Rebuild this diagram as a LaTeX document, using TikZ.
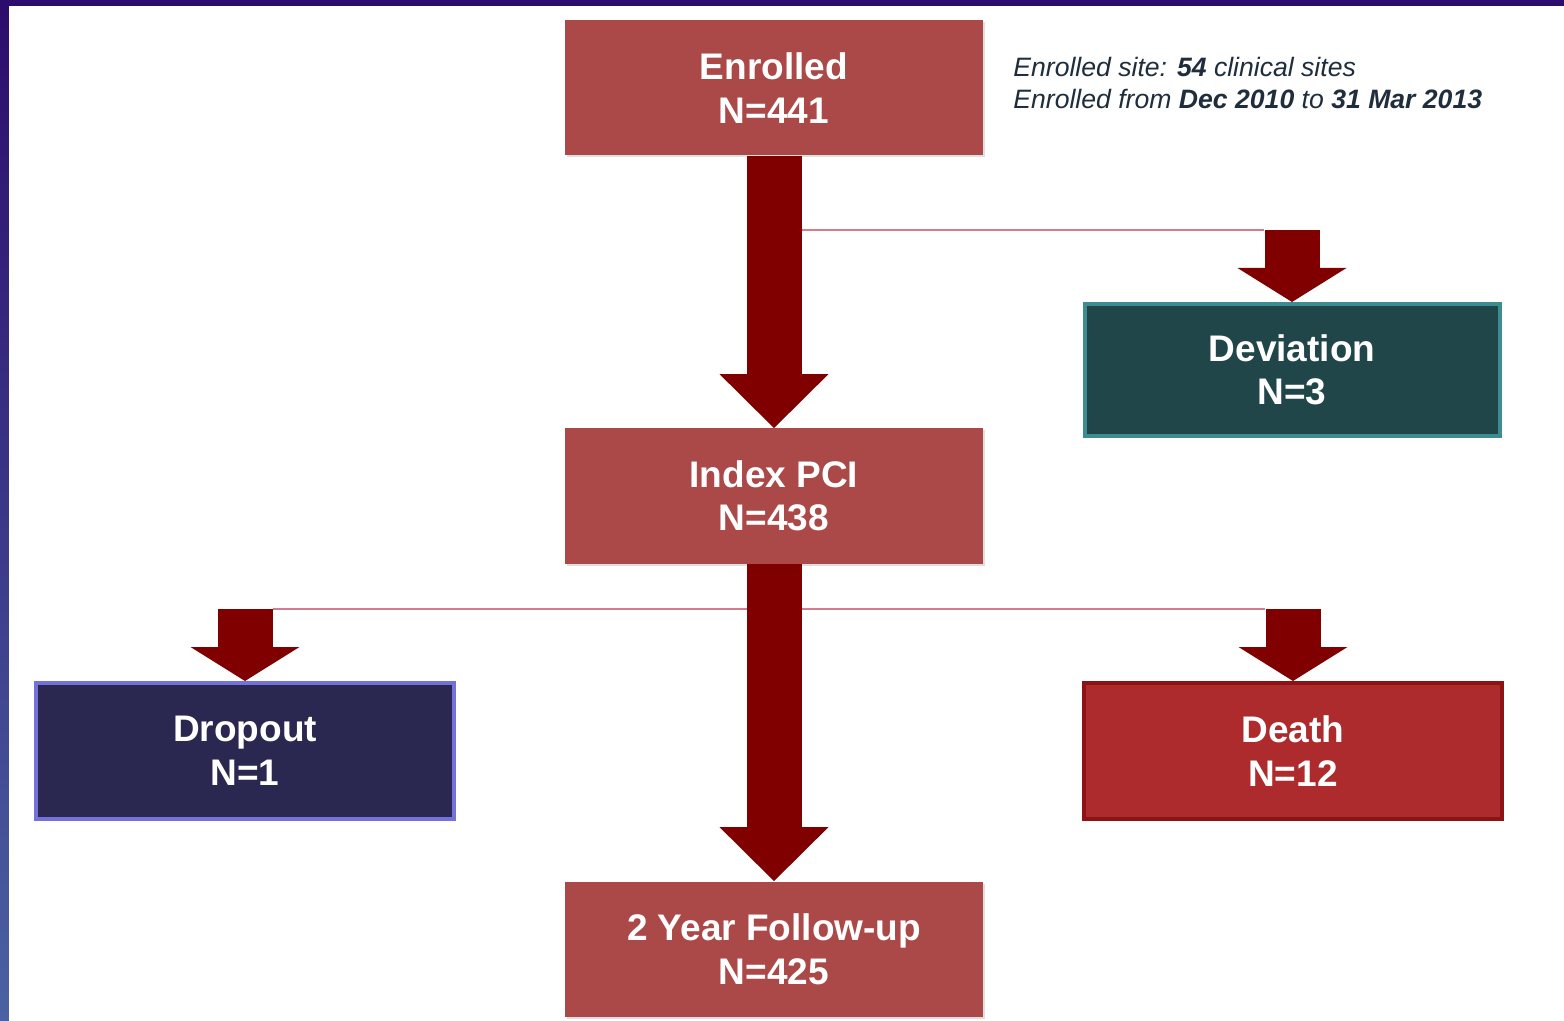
\documentclass[tikz,border=0pt]{standalone}
\usepackage{fontspec}
\setmainfont{Liberation Sans}
\usetikzlibrary{positioning,arrows.meta,shadows}

\definecolor{boxred}{HTML}{AB4949}
\definecolor{arrowred}{HTML}{800000}
\definecolor{linepink}{HTML}{D67A8C}
\definecolor{devfill}{HTML}{21464A}
\definecolor{devline}{HTML}{3C8C91}
\definecolor{dropfill}{HTML}{2A2850}
\definecolor{dropline}{HTML}{7272D8}
\definecolor{deathfill}{HTML}{AD2B2D}
\definecolor{deathline}{HTML}{8C1416}
\definecolor{notetext}{HTML}{1F2D3D}
\definecolor{frametop}{HTML}{2C0C6C}
\definecolor{framebottom}{HTML}{4A62A2}

\tikzset{
  box/.style={fill=boxred, minimum width=209pt, minimum height=67.5pt, inner sep=0pt,
    align=center, text=white, font=\fontsize{18.5}{21.8}\selectfont\bfseries,
    drop shadow={opacity=0.25, shadow xshift=1pt, shadow yshift=-1pt}},
  sidebox/.style={box, line width=2pt, minimum width=207.5pt, minimum height=66pt},
  bigarrow/.style={draw=arrowred, line width=27.5pt,
    -{Triangle[width=54.5pt, length=27pt, line width=0pt]}},
  smallarrow/.style={bigarrow, -{Triangle[width=54.5pt, length=17pt, line width=0pt]}},
  branch/.style={draw=linepink, line width=1.3pt},
  note/.style={inner sep=0pt, align=left, text=notetext, font=\fontsize{13.3}{16}\selectfont\itshape}
}

\begin{document}
\begin{tikzpicture}[x=0.5pt, y=-0.5pt]
  \useasboundingbox (0,0) rectangle (1564,1021);
  \fill[top color=frametop, bottom color=framebottom] (0,0) rectangle (1564,1021);
  \fill[white] (9,6) rectangle (1564,1021);

  \node[box] (enrolled) at (774,88) {Enrolled\\N=441};
  \node[box] (indexpci) at (774,496) {Index PCI\\N=438};
  \node[box] (followup) at (774,949) {2 Year Follow-up\\N=425};
  \node[sidebox, fill=devfill, draw=devline] (deviation) at (1292,370) {Deviation\\N=3};
  \node[sidebox, fill=dropfill, draw=dropline, minimum width=209pt, minimum height=68pt] (dropout) at (245,751) {Dropout\\N=1};
  \node[sidebox, fill=deathfill, draw=deathline, minimum width=209pt, minimum height=68pt] (death) at (1293,751) {Death\\N=12};
  \node[note, anchor=north west] (sites) at (1013,57)
    {Enrolled site: \textbf{54} clinical sites\\Enrolled from \textbf{Dec 2010} to \textbf{31 Mar 2013}};

  \coordinate[above=36pt of deviation.north] (devtop);
  \coordinate (split1) at (enrolled.south |- devtop);
  \coordinate[above=36pt of dropout.north] (droptop);
  \coordinate[above=36pt of death.north] (deathtop);

  \draw[branch] (split1) -- ([xshift=-14pt]devtop);
  \draw[branch] ([xshift=14pt]droptop) -- ([xshift=-14pt]deathtop);

  \draw[bigarrow] (enrolled.south) -- (indexpci.north);
  \draw[bigarrow] (indexpci.south) -- (followup.north);
  \draw[smallarrow] (devtop) -- (deviation.north);
  \draw[smallarrow] (droptop) -- (dropout.north);
  \draw[smallarrow] (deathtop) -- (death.north);
\end{tikzpicture}
\end{document}
